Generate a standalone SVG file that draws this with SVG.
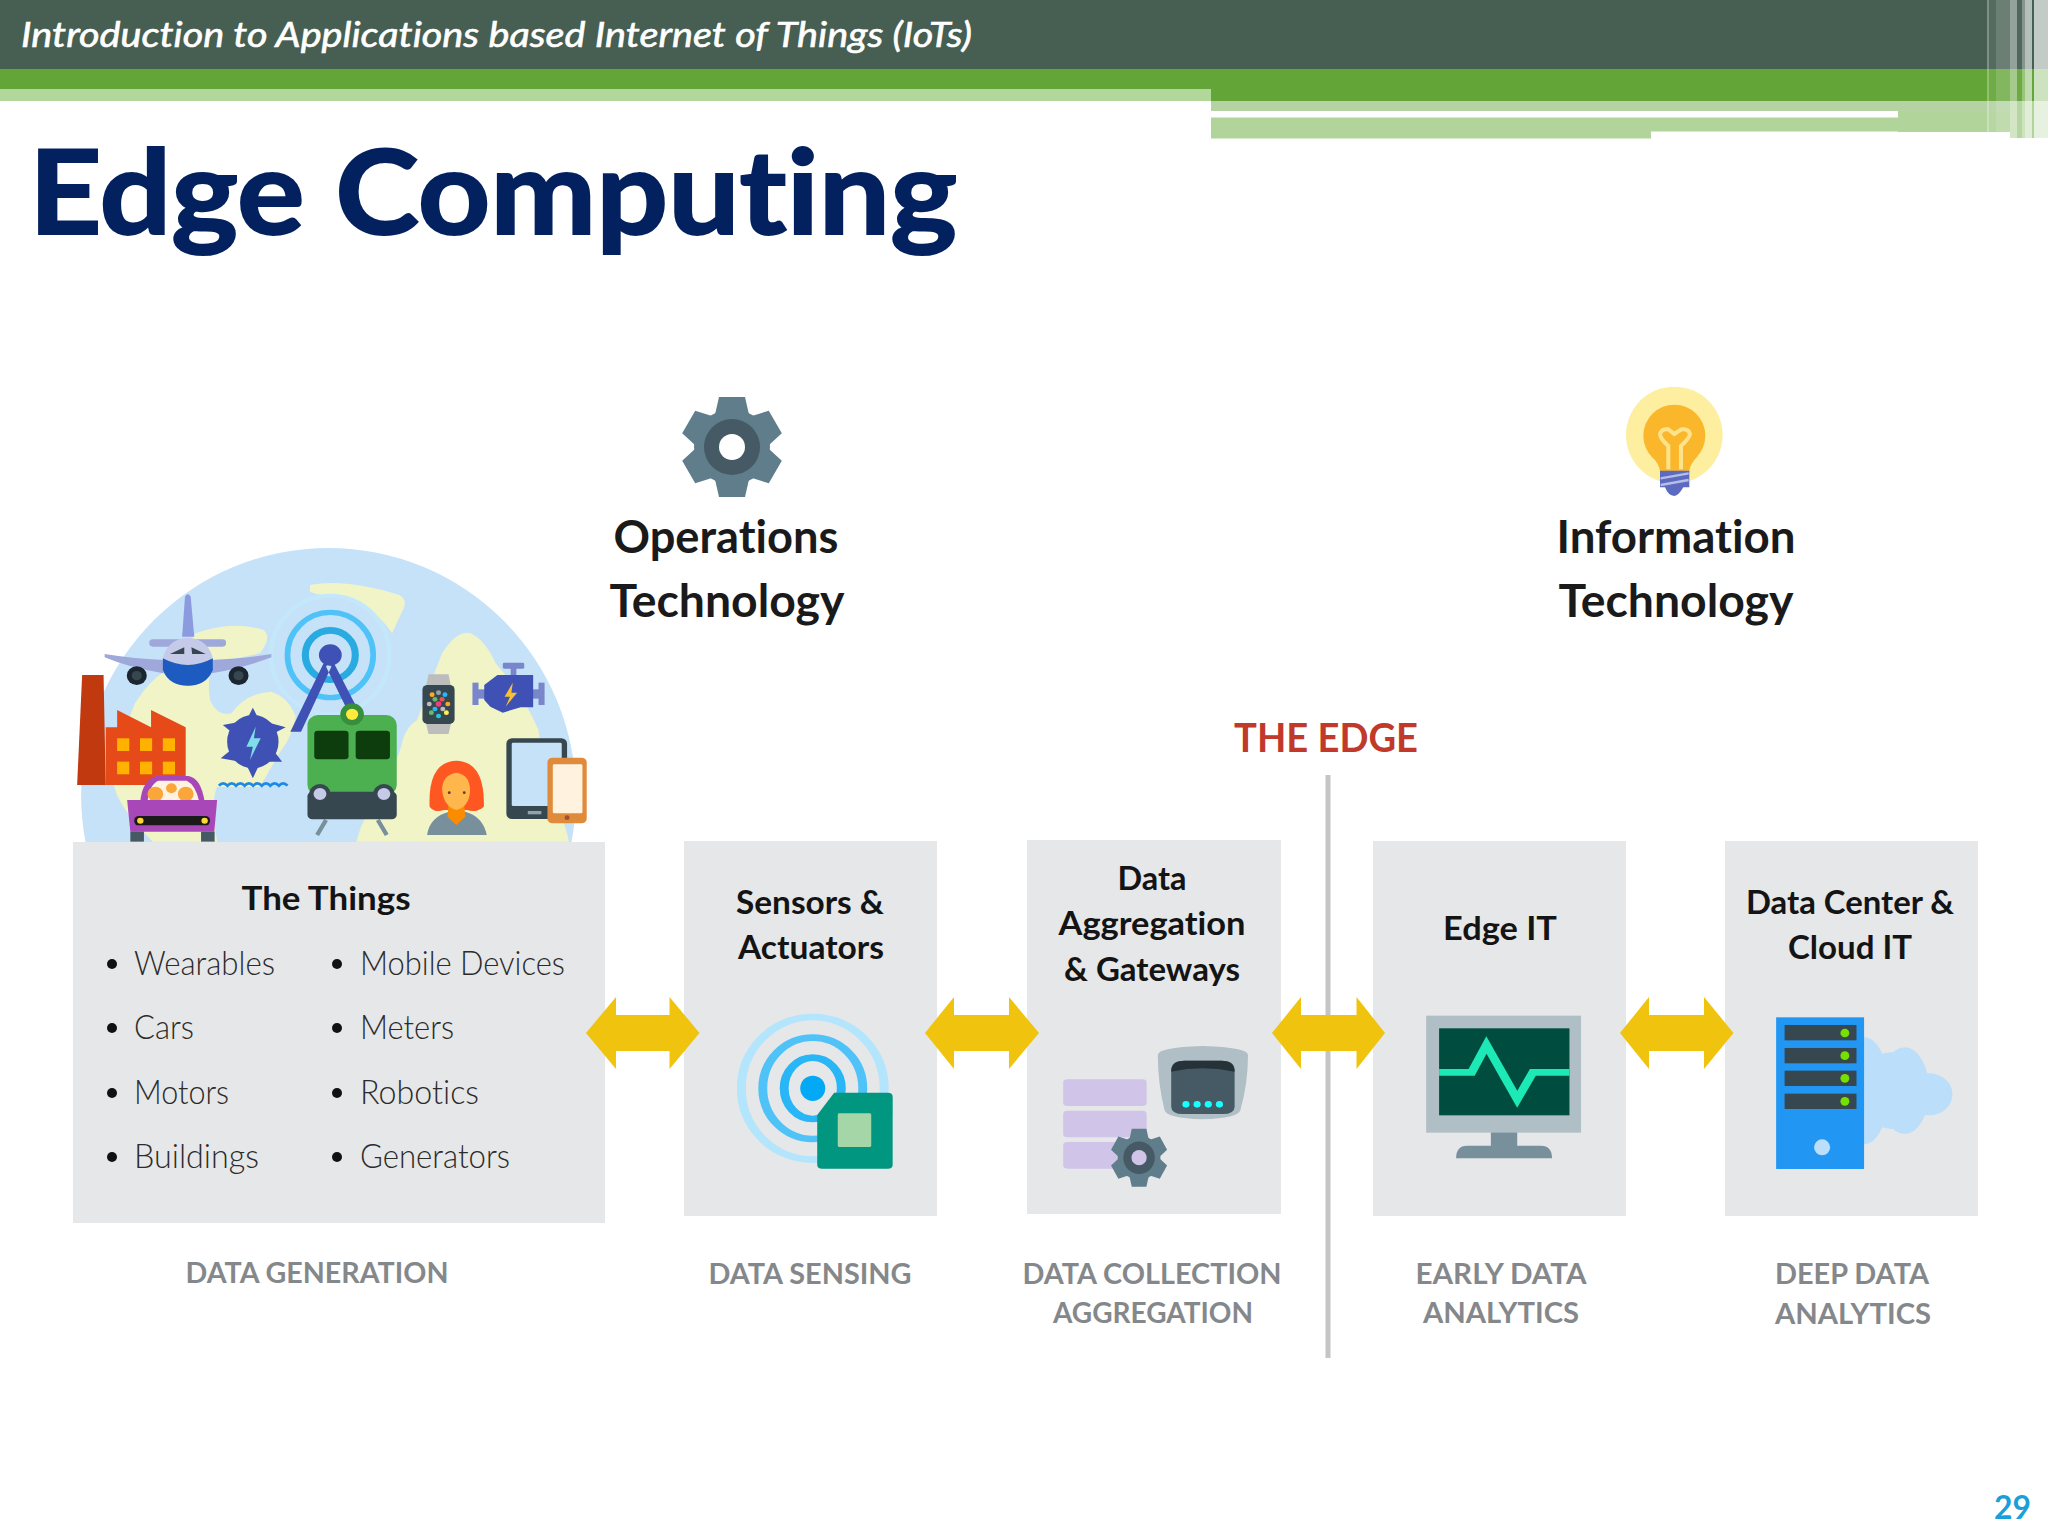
<svg xmlns="http://www.w3.org/2000/svg" xmlns:xlink="http://www.w3.org/1999/xlink" width="2048" height="1536" viewBox="0 0 2048 1536">
<style>
text{font-family:"Lato","Open Sans","Liberation Sans",sans-serif;font-variant-ligatures:none}
.box{fill:#e6e7e8}
.h{font-size:33px;font-weight:700;fill:#141414;text-anchor:middle}
.b{font-size:33px;font-weight:300;fill:#2b2b2b}
.cap{font-size:29px;font-weight:700;fill:#85888b;text-anchor:middle}
.big{font-size:46px;font-weight:700;fill:#1a1a1a;text-anchor:middle}
.dot{fill:#111}
.arrow{fill:#f0c30f}
.gearBody{fill:#607d8b}
.gearCore{fill:#455a64}
</style>
<defs>
<clipPath id="globeClip"><rect x="0" y="0" width="2048" height="842"/></clipPath>
<path id="tooth" d="M-13-50H13L18-28H-18Z"/>
<g id="gear" class="gearBody">
<circle r="38"/>
<use href="#tooth"/><use href="#tooth" transform="rotate(60)"/><use href="#tooth" transform="rotate(120)"/>
<use href="#tooth" transform="rotate(180)"/><use href="#tooth" transform="rotate(240)"/><use href="#tooth" transform="rotate(300)"/>
<circle class="gearCore" r="28"/>
</g>
</defs>
<rect width="2048" height="1536" fill="#fff"/>

<g id="header">
<rect width="2048" height="69" fill="#465f52"/>
<rect y="69" width="2048" height="20" fill="#63a537"/>
<rect y="89" width="1211" height="12" fill="#b1d79b"/>
<rect x="1211" y="89" width="837" height="12" fill="#63a537"/>
<rect x="1211" y="101" width="799" height="10" fill="#b5d2a3"/>
<rect x="1211" y="111" width="687" height="6.500" fill="#fff"/>
<rect x="1898" y="111" width="112" height="21" fill="#b1d49b"/>
<rect x="1211" y="117.500" width="440" height="21" fill="#b1d49b"/>
<rect x="1651" y="117.500" width="247" height="14" fill="#b1d49b"/>
<rect x="2010" y="101" width="38" height="37" fill="#b1d49b"/>
<g fill="#fff">
<rect x="1987" y="0" width="2" height="132" opacity=".3"/>
<rect x="1989" y="0" width="7" height="132" opacity=".08"/>
<rect x="1996" y="0" width="14" height="132" opacity=".2"/>
<rect x="2010" y="0" width="7" height="138" opacity=".42"/>
<rect x="2017" y="0" width="5" height="138" opacity=".06"/>
<rect x="2022" y="0" width="3" height="138" opacity=".35"/>
<rect x="2025" y="0" width="7" height="138" opacity=".6"/>
<rect x="2034" y="0" width="14" height="138" opacity=".68"/>
</g>
<text x="21" y="47" font-size="34" font-style="italic" font-weight="400" fill="#fff" stroke="#fff" stroke-width=".6" textLength="951" lengthAdjust="spacingAndGlyphs">Introduction to Applications based Internet of Things (IoTs)</text>
</g>

<text id="title" x="29" y="234" font-size="116" font-weight="700" fill="#04215f" stroke="#04215f" stroke-width="2" textLength="928" lengthAdjust="spacingAndGlyphs">Edge Computing</text>

<g id="operations-technology">
<use href="#gear" transform="translate(732 447)"/>
<circle cx="732" cy="447" r="13" fill="#fff"/>
<text class="big" x="726" y="553" textLength="225" lengthAdjust="spacingAndGlyphs">Operations</text>
<text class="big" x="727" y="617" textLength="235" lengthAdjust="spacingAndGlyphs">Technology</text>
</g>

<g id="information-technology">
<g transform="translate(1600 370) scale(.3333)">
<circle cx="223" cy="195" r="145" fill="#fdeea0"/>
<circle cx="223" cy="197" r="93" fill="#fbb72c"/>
<path d="M155 258Q180 285 180 305H268Q268 285 293 258Z" fill="#fbb72c"/>
<path d="M205 298V228Q180 205 180 192Q185 175 205 178Q218 188 223 192Q232 186 245 178Q265 175 270 192Q268 205 243 228V298" fill="none" stroke="#ffe38a" stroke-width="12"/>
<path d="M180 302H268V352H250Q235 378 223 378Q205 378 195 352H180Z" fill="#5c6bc0"/>
<path d="M182 325L266 310M182 345L266 330" stroke="#b5bde8" stroke-width="7"/>
</g>
<text class="big" x="1676" y="553" textLength="239" lengthAdjust="spacingAndGlyphs">Information</text>
<text class="big" x="1676" y="617" textLength="235" lengthAdjust="spacingAndGlyphs">Technology</text>
</g>

<g id="the-edge">
<text x="1326" y="752" font-size="41" font-weight="700" fill="#c0392b" text-anchor="middle" textLength="184" lengthAdjust="spacingAndGlyphs">THE EDGE</text>
<rect x="1325.500" y="775" width="5" height="583" fill="#c3c5c7"/>
</g>

<g id="things-illustration" clip-path="url(#globeClip)">
<circle cx="328.500" cy="795.400" r="247.400" fill="#c6e2f9"/>
<g transform="translate(60 530) scale(.3571 .3333)">
<g fill="#f0f4c7">
<path d="M700 165Q800 145 950 195Q975 210 960 240L930 310Q880 230 800 205Q720 195 700 185Z"/>
<path d="M380 310Q480 270 570 300Q595 320 560 370L430 400Q410 440 420 510Q440 560 480 550Q520 490 590 485Q640 500 660 560Q650 620 620 660L560 770H440Q420 820 440 935H260Q160 830 150 760Q170 620 210 520Q250 450 300 420Z"/>
<path d="M830 935Q850 850 900 790Q950 680 960 630Q970 590 1000 570Q1030 480 1070 370Q1110 300 1150 310Q1190 330 1220 400Q1300 500 1340 600Q1350 700 1380 780Q1420 900 1425 935Z"/>
</g>
<g fill="none">
<ellipse cx="757" cy="375" rx="166" ry="178" stroke="#c4e8fb" stroke-width="12"/>
<ellipse cx="757" cy="375" rx="120" ry="128" stroke="#4fc3f7" stroke-width="16"/>
<ellipse cx="757" cy="375" rx="70" ry="74" stroke="#29abe2" stroke-width="20"/>
</g>
<circle cx="757" cy="375" r="32" fill="#3f51b5"/>
<path d="M745 385L645 605H675L760 410ZM760 385L830 530H800L745 410Z" fill="#3f51b5"/>
<g id="plane">
<path d="M342 320L350 200Q358 185 366 200L376 320Z" fill="#8c9ae0"/>
<rect x="250" y="328" width="215" height="22" rx="10" fill="#9fa8da"/>
<path d="M125 372Q200 385 290 390V430Q190 412 125 382ZM425 390Q520 385 592 372V382Q520 412 425 430Z" fill="#9fa8da"/>
<circle cx="215" cy="437" r="28" fill="#1b2631"/><circle cx="500" cy="437" r="28" fill="#1b2631"/>
<circle cx="215" cy="437" r="14" fill="#37474f"/><circle cx="500" cy="437" r="14" fill="#37474f"/>
<ellipse cx="358" cy="395" rx="70" ry="72" fill="#c5cae9"/>
<path d="M288 385Q358 425 428 385V420Q410 467 358 467Q305 467 288 420Z" fill="#1e5bc0"/>
<path d="M308 372L348 352V372ZM368 352L408 372H370Z" fill="#37474f"/>
</g>
<g id="factory">
<path d="M62 435H122L128 765H48Z" fill="#c0390f"/>
<path d="M128 592H160V540L255 592V540L352 592V765H128Z" fill="#e64a19"/>
<g fill="#ffb300"><rect x="160" y="625" width="34" height="38"/><rect x="224" y="625" width="34" height="38"/><rect x="288" y="625" width="34" height="38"/><rect x="160" y="695" width="34" height="38"/><rect x="224" y="695" width="34" height="38"/><rect x="288" y="695" width="34" height="38"/></g>
</g>
<g id="car">
<path d="M225 815Q230 750 270 738H360Q395 745 405 815Z" fill="#a848b8"/>
<path d="M245 815Q250 765 275 752H355Q380 765 390 815Z" fill="#fff3e0"/>
<circle cx="267" cy="792" r="22" fill="#fba63b"/><circle cx="352" cy="792" r="22" fill="#fba63b"/><circle cx="312" cy="775" r="15" fill="#fba63b"/>
<path d="M188 810H440L432 905H197Z" fill="#a848b8"/>
<rect x="197" y="905" width="38" height="30" fill="#455a64"/><rect x="395" y="905" width="38" height="30" fill="#455a64"/>
<rect x="208" y="858" width="212" height="28" rx="12" fill="#1a1a1a"/>
<circle cx="225" cy="872" r="9" fill="#fdd835"/><circle cx="405" cy="872" r="9" fill="#fdd835"/>
</g>
<g id="turbine">
<ellipse cx="540" cy="635" rx="72" ry="80" fill="#3f51b5"/>
<path d="M540 533L560 575H520ZM632 592L590 615L575 575ZM622 695L575 695L590 650ZM540 745L520 700H560ZM450 685L490 650L505 695ZM456 585L505 575L490 615Z" fill="#3f51b5"/>
<path d="M548 590L522 650L540 650L532 690L562 625L543 625Z" fill="#80deea"/>
<path d="M445 767q12-14 24 0q12-14 24 0q12-14 24 0q12-14 24 0q12-14 24 0q12-14 24 0q12-14 24 0q12-14 24 0" fill="none" stroke="#1e88e5" stroke-width="8"/>
</g>
<g id="train">
<path d="M745 870L720 915M890 870L915 915" stroke="#78909c" stroke-width="12"/>
<rect x="693" y="555" width="250" height="240" rx="30" fill="#4caf50"/>
<circle cx="818" cy="553" r="33" fill="#388e3c"/><circle cx="818" cy="553" r="17" fill="#ffeb3b"/>
<rect x="712" y="602" width="96" height="86" rx="10" fill="#0d3c0d"/><rect x="828" y="602" width="96" height="86" rx="10" fill="#0d3c0d"/>
<rect x="693" y="785" width="250" height="83" rx="14" fill="#37474f"/>
<circle cx="728" cy="792" r="30" fill="#37474f"/><circle cx="907" cy="792" r="30" fill="#37474f"/>
<circle cx="728" cy="792" r="18" fill="#c5cae9"/><circle cx="907" cy="792" r="18" fill="#c5cae9"/>
</g>
<g id="watch">
<path d="M1032 433H1088L1095 470V580L1088 612H1032L1025 580V470Z" fill="#bdbdbd"/>
<rect x="1015" y="465" width="90" height="117" rx="14" fill="#37474f"/>
<circle cx="1060" cy="488" r="7" fill="#90a4ae"/><circle cx="1042" cy="494" r="7" fill="#ffa726"/><circle cx="1078" cy="494" r="7" fill="#29b6f6"/><circle cx="1050" cy="508" r="7" fill="#66bb6a"/><circle cx="1070" cy="508" r="7" fill="#ef5350"/><circle cx="1034" cy="522" r="7" fill="#bdbdbd"/><circle cx="1060" cy="522" r="8" fill="#ec407a"/><circle cx="1086" cy="522" r="7" fill="#ffa726"/><circle cx="1050" cy="537" r="7" fill="#29b6f6"/><circle cx="1072" cy="537" r="7" fill="#bdbdbd"/><circle cx="1040" cy="548" r="7" fill="#66bb6a"/><circle cx="1082" cy="548" r="7" fill="#ffee58"/><circle cx="1060" cy="558" r="7" fill="#26c6da"/>
</g>
<g id="engine">
<rect x="1240" y="398" width="60" height="18" rx="4" fill="#7986cb"/><rect x="1262" y="414" width="16" height="30" fill="#7986cb"/>
<rect x="1155" y="458" width="17" height="67" fill="#7986cb"/><rect x="1340" y="458" width="17" height="67" fill="#7986cb"/>
<rect x="1170" y="478" width="20" height="28" fill="#7986cb"/><rect x="1322" y="478" width="20" height="28" fill="#7986cb"/>
<path d="M1188 465L1225 435H1325V532H1290L1240 548L1205 530L1188 510Z" fill="#3f51b5"/>
<path d="M1268 458L1245 500H1260L1248 530L1280 488H1264Z" fill="#fbc02d"/>
</g>
<g id="person">
<path d="M1028 915Q1035 860 1090 845H1135Q1185 860 1195 915Z" fill="#78909c"/>
<path d="M1035 830Q1030 695 1110 692Q1190 695 1187 830Q1165 850 1140 840H1075Q1050 850 1035 830Z" fill="#ff5722"/>
<path d="M1088 825H1132L1135 860L1110 885L1085 860Z" fill="#fb8c00"/>
<path d="M1070 780Q1070 735 1110 728Q1150 735 1148 785Q1145 830 1110 840Q1075 830 1070 780Z" fill="#ffb74d"/>
<circle cx="1090" cy="788" r="4" fill="#5d4037"/><circle cx="1132" cy="788" r="4" fill="#5d4037"/>
</g>
<g id="devices">
<rect x="1250" y="625" width="170" height="242" rx="16" fill="#37474f"/>
<rect x="1265" y="638" width="140" height="190" rx="4" fill="#c6e2f9"/>
<rect x="1310" y="843" width="38" height="10" fill="#90a4ae"/>
<rect x="1365" y="683" width="110" height="197" rx="14" fill="#e08a3c"/>
<rect x="1380" y="703" width="83" height="147" rx="4" fill="#fff3e0"/>
<circle cx="1420" cy="863" r="7" fill="#a0522d"/>
</g>
</g>
</g>

<g id="node-things">
<rect class="box" x="73" y="842" width="532" height="381"/>
<text class="h" x="326" y="910" textLength="169" lengthAdjust="spacingAndGlyphs">The Things</text>
<circle class="dot" cx="112" cy="964" r="5"/><text class="b" x="134" y="975" textLength="141" lengthAdjust="spacingAndGlyphs">Wearables</text>
<circle class="dot" cx="112" cy="1028" r="5"/><text class="b" x="134" y="1039" textLength="60" lengthAdjust="spacingAndGlyphs">Cars</text>
<circle class="dot" cx="112" cy="1093" r="5"/><text class="b" x="134" y="1104" textLength="95" lengthAdjust="spacingAndGlyphs">Motors</text>
<circle class="dot" cx="112" cy="1157" r="5"/><text class="b" x="134" y="1168" textLength="125" lengthAdjust="spacingAndGlyphs">Buildings</text>
<circle class="dot" cx="337" cy="964" r="5"/><text class="b" x="360" y="975" textLength="205" lengthAdjust="spacingAndGlyphs">Mobile Devices</text>
<circle class="dot" cx="337" cy="1028" r="5"/><text class="b" x="360" y="1039" textLength="94" lengthAdjust="spacingAndGlyphs">Meters</text>
<circle class="dot" cx="337" cy="1093" r="5"/><text class="b" x="360" y="1104" textLength="119" lengthAdjust="spacingAndGlyphs">Robotics</text>
<circle class="dot" cx="337" cy="1157" r="5"/><text class="b" x="360" y="1168" textLength="150" lengthAdjust="spacingAndGlyphs">Generators</text>
<text class="cap" x="317" y="1283" textLength="263" lengthAdjust="spacingAndGlyphs">DATA GENERATION</text>
</g>

<g id="node-sensors">
<rect class="box" x="684" y="841" width="253" height="375"/>
<text class="h" x="810" y="914" textLength="148" lengthAdjust="spacingAndGlyphs">Sensors &amp;</text>
<text class="h" x="811" y="959" textLength="146" lengthAdjust="spacingAndGlyphs">Actuators</text>
<g transform="translate(640 960) scale(.4464 .3333)">
<g fill="none">
<ellipse cx="387" cy="385" rx="160" ry="214" stroke="#b3e5fc" stroke-width="20"/>
<ellipse cx="387" cy="385" rx="112" ry="152" stroke="#4fc3f7" stroke-width="20"/>
<ellipse cx="387" cy="385" rx="64" ry="92" stroke="#29b6f6" stroke-width="20"/>
</g>
<ellipse cx="387" cy="385" rx="28" ry="38" fill="#03a9f4"/>
<path d="M435 398H555Q566 398 566 410V615Q566 626 555 626H408Q397 626 397 615V465Z" fill="#009680"/>
<rect x="443" y="460" width="75" height="101" rx="4" fill="#a5d6a7"/>
</g>
<text class="cap" x="810" y="1284" textLength="203" lengthAdjust="spacingAndGlyphs">DATA SENSING</text>
</g>

<g id="node-aggregation">
<rect class="box" x="1027" y="840" width="254" height="374"/>
<text class="h" x="1152" y="890" textLength="69" lengthAdjust="spacingAndGlyphs">Data</text>
<text class="h" x="1152" y="935" textLength="187" lengthAdjust="spacingAndGlyphs">Aggregation</text>
<text class="h" x="1152" y="981" textLength="176" lengthAdjust="spacingAndGlyphs">&amp; Gateways</text>
<g transform="translate(640 960) scale(.4464 .3333)">
<g fill="#d1c4e9"><rect x="948" y="358" width="187" height="80" rx="10"/><rect x="948" y="452" width="187" height="80" rx="10"/><rect x="948" y="546" width="187" height="80" rx="10"/></g>
<path d="M1160 285Q1160 262 1260 258Q1362 262 1362 285Q1362 370 1345 450Q1340 475 1260 478Q1180 475 1175 450Q1160 370 1160 285Z" fill="#b0bec5"/>
<path d="M1190 330Q1190 302 1220 302H1302Q1332 302 1332 330V440Q1332 462 1305 462H1217Q1190 462 1190 440Z" fill="#455a64"/>
<path d="M1190 335Q1190 302 1220 302H1302Q1332 302 1332 335Q1260 315 1190 335Z" fill="#263238"/>
<g fill="#18ffff"><ellipse cx="1223" cy="433" rx="8" ry="10"/><ellipse cx="1248" cy="433" rx="8" ry="10"/><ellipse cx="1273" cy="433" rx="8" ry="10"/><ellipse cx="1298" cy="433" rx="8" ry="10"/></g>
<use href="#gear" transform="translate(1118 593) scale(1.260 1.740)"/>
<ellipse cx="1118" cy="593" rx="17" ry="23" fill="#d1c4e9"/>
</g>
<text class="cap" x="1152" y="1284" textLength="259" lengthAdjust="spacingAndGlyphs">DATA COLLECTION</text>
<text class="cap" x="1153" y="1323" textLength="200" lengthAdjust="spacingAndGlyphs">AGGREGATION</text>
</g>

<g id="node-edge-it">
<rect class="box" x="1373" y="841" width="253" height="375"/>
<text class="h" x="1500" y="940" textLength="114" lengthAdjust="spacingAndGlyphs">Edge IT</text>
<g transform="translate(1340 960) scale(.4464 .3333)">
<rect x="338" y="515" width="59" height="45" fill="#78909c"/>
<path d="M260 595Q260 557 285 557H450Q475 557 475 595Z" fill="#78909c"/>
<rect x="193" y="167" width="347" height="351" fill="#b0bec5"/>
<rect x="222" y="205" width="292" height="261" fill="#004d40"/>
<polyline points="222,337 295,337 328,255 397,418 432,337 514,337" fill="none" stroke="#1de9b6" stroke-width="20"/>
</g>
<text class="cap" x="1501" y="1284" textLength="171" lengthAdjust="spacingAndGlyphs">EARLY DATA</text>
<text class="cap" x="1501" y="1323" textLength="156" lengthAdjust="spacingAndGlyphs">ANALYTICS</text>
</g>

<g id="node-datacenter">
<rect class="box" x="1725" y="841" width="253" height="375"/>
<text class="h" x="1850" y="914" textLength="208" lengthAdjust="spacingAndGlyphs">Data Center &amp;</text>
<text class="h" x="1850" y="959" textLength="124" lengthAdjust="spacingAndGlyphs">Cloud IT</text>
<g transform="translate(1340 960) scale(.4464 .3333)">
<g fill="#bbdefb"><ellipse cx="1175" cy="392" rx="55" ry="160"/><ellipse cx="1235" cy="392" rx="70" ry="115"/><ellipse cx="1265" cy="392" rx="55" ry="130"/><ellipse cx="1320" cy="403" rx="52" ry="63"/></g>
<rect x="977" y="172" width="197" height="455" fill="#2196f3"/>
<g fill="#37474f"><rect x="996" y="195" width="161" height="46"/><rect x="996" y="264" width="161" height="46"/><rect x="996" y="332" width="161" height="46"/><rect x="996" y="401" width="161" height="46"/></g>
<g fill="#76e000"><ellipse cx="1131" cy="219" rx="10" ry="13"/><ellipse cx="1131" cy="287" rx="10" ry="13"/><ellipse cx="1131" cy="355" rx="10" ry="13"/><ellipse cx="1131" cy="424" rx="10" ry="13"/></g>
<ellipse cx="1080" cy="562" rx="18" ry="24" fill="#bbdefb"/>
</g>
<text class="cap" x="1852" y="1284" textLength="154" lengthAdjust="spacingAndGlyphs">DEEP DATA</text>
<text class="cap" x="1853" y="1324" textLength="156" lengthAdjust="spacingAndGlyphs">ANALYTICS</text>
</g>

<g id="connectors">
<path class="arrow" d="M586 1033L616 997V1015H669.500V997L699.500 1033L669.500 1069V1051H616V1069Z"/>
<path class="arrow" d="M925 1033L954 997V1015H1009V997L1039 1033L1009 1069V1051H954V1069Z"/>
<path class="arrow" d="M1272 1033L1301 997V1015H1356.500V997L1385 1033L1356.500 1069V1051H1301V1069Z"/>
<path class="arrow" d="M1620 1033L1649 997V1015H1704V997L1733.500 1033L1704 1069V1051H1649V1069Z"/>
</g>

<text id="page-number" x="1994" y="1519" font-size="33" font-weight="700" fill="#1b9fd8" textLength="37" lengthAdjust="spacingAndGlyphs">29</text>
</svg>
